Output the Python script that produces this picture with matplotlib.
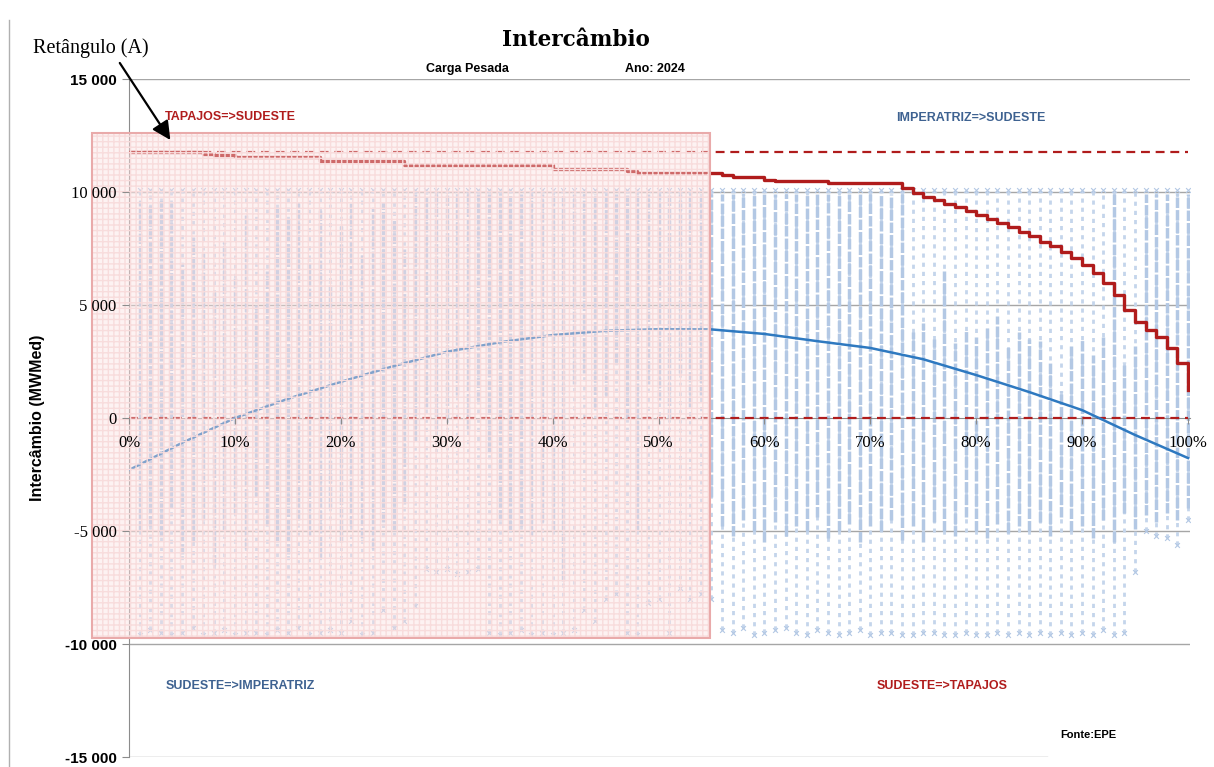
import numpy as np
import matplotlib
matplotlib.use("Agg")
import matplotlib.pyplot as plt
from matplotlib.patches import Rectangle
from matplotlib.lines import Line2D

# --------------------------
# data
# --------------------------
# scatter columns (percent of the sorted scenarios), values in MWmed
col_pct = list(range(1, 101))
col_top = 10100
dense_top = [9600, 9400, 9700, 9500, 6800, 8000, 7300, 5600, 7800, 6200,
             9000, 5000, 6500, 9300, 8800, 9500, 7000, 9200, 6000, 8500,
             9600, 7200, 9300, 9500, 8800, 7500,
             9900, 9900, 9900, 9900, 9900, 9900, 9900, 9900,
             9900, 9900, 9900, 9900, 9900, 9900, 9900, 9900, 9900, 9900,
             9900, 9900, 9900, 9900, 9900, 9900, 9900, 9900, 9900, 9900,
             9900, 9900, 9900, 9900, 9900, 9900, 9900, 9900, 9900, 9900,
             9900, 9900, 9900, 9900, 9900, 9900, 9900, 9900, 9900,
             3800, 4200, 3500, 6500, 3300, 3900, 3600, 4000, 4500, 3200, 3800,
             3500, 3400, 2500, 1200, 3200, 3500, 2800, 3600, 9900, 2500, 3200, 9900,
             9900, 9900, 9900, 9900]
dense_bot = [-5000, -4800, -5200, -4000, -6000, -5500, -4500, -6500, -5000, -4200,
             -5800, -3500, -4800, -5500, -6000, -4500, -5200, -6200, -4000, -5500,
             -4800, -5300, -5800, -4600, -5000, -3800,
             -1000, 500, -500, 0, 1000, -500, 800, -1500,
             -4500, -5000, -4800, -5200, -4600, -5000, -7200, 1500, 2000, 500,
             1000, 2500, 0, -5000, 1500, 800, 0, 2000, 500, 1000,
             -3500, -4800, -5200, -4500, -5000, -5500, -4600, -5200, -4800, -5000,
             -4400, -5300, -5000, -4700, -5500, -4800, -5000, -4500, -5400,
             -4800, -5500, -4600, -5000, -5200, -4400, -5000, -5300, -4700, -5100, -4800,
             -5000, -4600, -5200, -4400, -5000, -4800, -5300, -4500, -5500, -4200, -4900, -4300,
             -4600, -4200, -4500, -4000]
sparse_bot = [-9600, -9400, -9500, -9600, -9500, -9300, -9600, -9500, -9400, -9600,
              -9500, -9500, -9600, -9400, -9500, -9300, -9600, -9500, -9400, -9500,
              -9000, -9600, -9500, -8500, -9300, -9000,
              -8300, -6700, -6800, -6700, -6900, -6800, -6700, -9500,
              -9600, -9500, -9400, -9600, -9500, -9600, -9500, -9400, -8500, -9000,
              -8000, -7800, -9500, -9600, -8200, -8000, -9500, -7500, -8000, -7800,
              -8000, -9400, -9500, -9300, -9600, -9500, -9400, -9300, -9500, -9600,
              -9400, -9500, -9600, -9500, -9400, -9600, -9500, -9500, -9600,
              -9600, -9500, -9500, -9600, -9600, -9500, -9600, -9600, -9500, -9600, -9500,
              -9600, -9500, -9600, -9500, -9600, -9500, -9600, -9400, -9600, -9500, -6800, -5000,
              -5200, -5300, -5600, -4500]

# exchange limit (step line)
limit_x = [0, 7, 8, 10, 18, 26, 40, 47, 48, 56, 57, 60, 61, 66,
           73, 74, 75, 76, 77, 78, 79, 80, 81, 82, 83, 84, 85, 86,
           87, 88, 89, 90, 91, 92, 93, 94, 95, 96, 97, 98, 99, 100]
limit_y = [11780, 11700, 11620, 11550, 11380, 11200, 11000, 10920, 10830, 10750,
           10650, 10550, 10490, 10380,
           10160, 9940, 9790, 9650, 9470, 9320, 9170, 8980, 8790, 8640, 8470,
           8250, 8050, 7800, 7600, 7360, 7070, 6770, 6400, 5960, 5440, 4780,
           4260, 3890, 3600, 3080, 2420, 1240]
limit_max = 11770

# trend curve
trend_x = [0, 5, 10, 15, 20, 25, 30, 35, 40, 45, 50,
           55, 60, 65, 70, 75, 80, 85, 90, 95, 100]
trend_y = [-2300, -1100, 0, 850, 1600, 2300, 2930, 3350, 3670, 3860, 3930,
           3920, 3720, 3400, 3100, 2600, 1900, 1150, 350, -750, -1770]

y_ticks = [15000, 10000, 5000, 0, -5000, -10000, -15000]
y_labels = ["15 000", "10 000", "5 000", "0", "-5 000", "-10 000", "-15 000"]
x_ticks = [0, 10, 20, 30, 40, 50, 60, 70, 80, 90, 100]
x_labels = [f"{v}%" for v in x_ticks]

# rectangle (A): percent span and MW span
rect_x = (-3.5, 54.9)
rect_y = (-9730, 12600)

RED = "#b01c1c"
BLUE = "#2e79c0"
PTS = "#b3c8e4"
SANS = "Liberation Sans"
SERIF = "Liberation Serif"

fig = plt.figure(figsize=(12.14, 7.67), dpi=100)
ax = fig.add_axes([0.1063, 0.0130, 0.8740, 0.8840])
ax.set_xlim(0, 100.2)
ax.set_ylim(-15000, 15000)

# gridlines
for v in y_ticks:
    if v == -15000:
        ax.axhline(v, xmax=0.865, color="#a6a6a6", lw=1.0, zorder=1)
    elif v != 0:
        ax.axhline(v, color="#a6a6a6", lw=1.0, zorder=1)

# scatter columns
ax.vlines(col_pct, sparse_bot, col_top, colors="#c4d5eb", lw=2.0,
          linestyles=(0, (1.5, 1.8)), zorder=2)
ax.vlines(col_pct, dense_bot, dense_top, colors=PTS, lw=2.5,
          linestyles=(0, (3, 0.6)), zorder=2)
ax.scatter(col_pct, np.full(len(col_pct), col_top), marker="x", s=12,
           color=PTS, lw=0.8, zorder=2)
ax.scatter(col_pct, sparse_bot, marker="x", s=12, color=PTS, lw=0.8, zorder=2)

# limit lines
ax.plot([0, 100], [limit_max, limit_max], color=RED, lw=1.6,
        dashes=(4, 2.6), zorder=4)
ax.plot([0, 100], [0, 0], color=RED, lw=1.6, dashes=(4, 2.6), zorder=4)
ax.step(limit_x, limit_y, where="post", color=RED, lw=2.4, zorder=5)
ax.plot(trend_x, trend_y, color=BLUE, lw=1.8, zorder=5)

# rectangle (A) on top
ax.add_patch(Rectangle((rect_x[0], rect_y[0]), rect_x[1] - rect_x[0],
                       rect_y[1] - rect_y[0], facecolor=(0.99, 0.88, 0.88, 0.4),
                       edgecolor="#f8dcdc", lw=0, hatch="+++", zorder=6,
                       clip_on=False))
ax.add_patch(Rectangle((rect_x[0], rect_y[0]), rect_x[1] - rect_x[0],
                       rect_y[1] - rect_y[0], facecolor="none",
                       edgecolor="#e9aaaa", lw=1.5, zorder=7, clip_on=False))

# axes styling
for s in ["top", "right"]:
    ax.spines[s].set_visible(False)
ax.spines["left"].set_color("#8c8c8c")
ax.spines["bottom"].set_position(("data", 0))
ax.spines["bottom"].set_color("#8c8c8c")
ax.xaxis.set_zorder(8)
ax.yaxis.set_zorder(8)
ax.set_yticks(y_ticks)
ax.set_yticklabels(y_labels)
ax.tick_params(axis="y", length=5, color="#8c8c8c", pad=4)
for lab, v in zip(ax.get_yticklabels(), y_ticks):
    if v in (15000, -10000, -15000):
        lab.set_fontfamily(SANS)
        lab.set_fontweight("bold")
        lab.set_fontsize(11)
    else:
        lab.set_fontfamily(SERIF)
        lab.set_fontsize(12)
ax.set_xticks(x_ticks)
ax.set_xticklabels(x_labels, fontfamily=SERIF, fontsize=12)
ax.tick_params(axis="x", length=4, color="#8c8c8c", pad=8)
ax.set_ylabel("Intercâmbio (MWMed)", fontfamily=SANS, fontweight="bold",
              fontsize=11.5, labelpad=14)

# texts
fig.text(576 / 1214, 1 - 40 / 767, "Intercâmbio", ha="center", va="center",
         fontfamily="DejaVu Serif", fontweight="bold", fontsize=15.5)
fig.text(467 / 1214, 1 - 69 / 767, "Carga Pesada", ha="center", va="center",
         fontfamily=SANS, fontweight="bold", fontsize=9)
fig.text(655 / 1214, 1 - 69 / 767, "Ano: 2024", ha="center", va="center",
         fontfamily=SANS, fontweight="bold", fontsize=9)
ax.text(3.4, 13300, "TAPAJOS=>SUDESTE", color=RED, fontfamily=SANS,
        fontweight="bold", fontsize=9, va="center", zorder=8)
ax.text(72.4, 13270, "IMPERATRIZ=>SUDESTE", color="#3e6291", fontfamily=SANS,
        fontweight="bold", fontsize=9, va="center")
ax.text(3.5, -11860, "SUDESTE=>IMPERATRIZ", color="#3e6291", fontfamily=SANS,
        fontweight="bold", fontsize=9, va="center")
ax.text(70.6, -11860, "SUDESTE=>TAPAJOS", color=RED, fontfamily=SANS,
        fontweight="bold", fontsize=9, va="center")
ax.text(87.9, -14030, "Fonte:EPE", color="black", fontfamily=SANS,
        fontweight="bold", fontsize=8, va="center")

ax.annotate("Retângulo (A)", xy=(3.9, 12300),
            xytext=(91 / 1214, 1 - 48 / 767), textcoords="figure fraction",
            ha="center", va="center", fontfamily=SERIF, fontsize=14.5,
            annotation_clip=False, zorder=9,
            arrowprops=dict(arrowstyle="-|>", color="black", lw=1.6,
                            mutation_scale=28, relpos=(0.72, 0.0),
                            shrinkA=2, shrinkB=0))

# page border on the left
fig.add_artist(Line2D([9 / 1214, 9 / 1214], [0, 1 - 20 / 767],
                      color="#b0b0b0", lw=1.0))

fig.savefig("out.png", dpi=100)
